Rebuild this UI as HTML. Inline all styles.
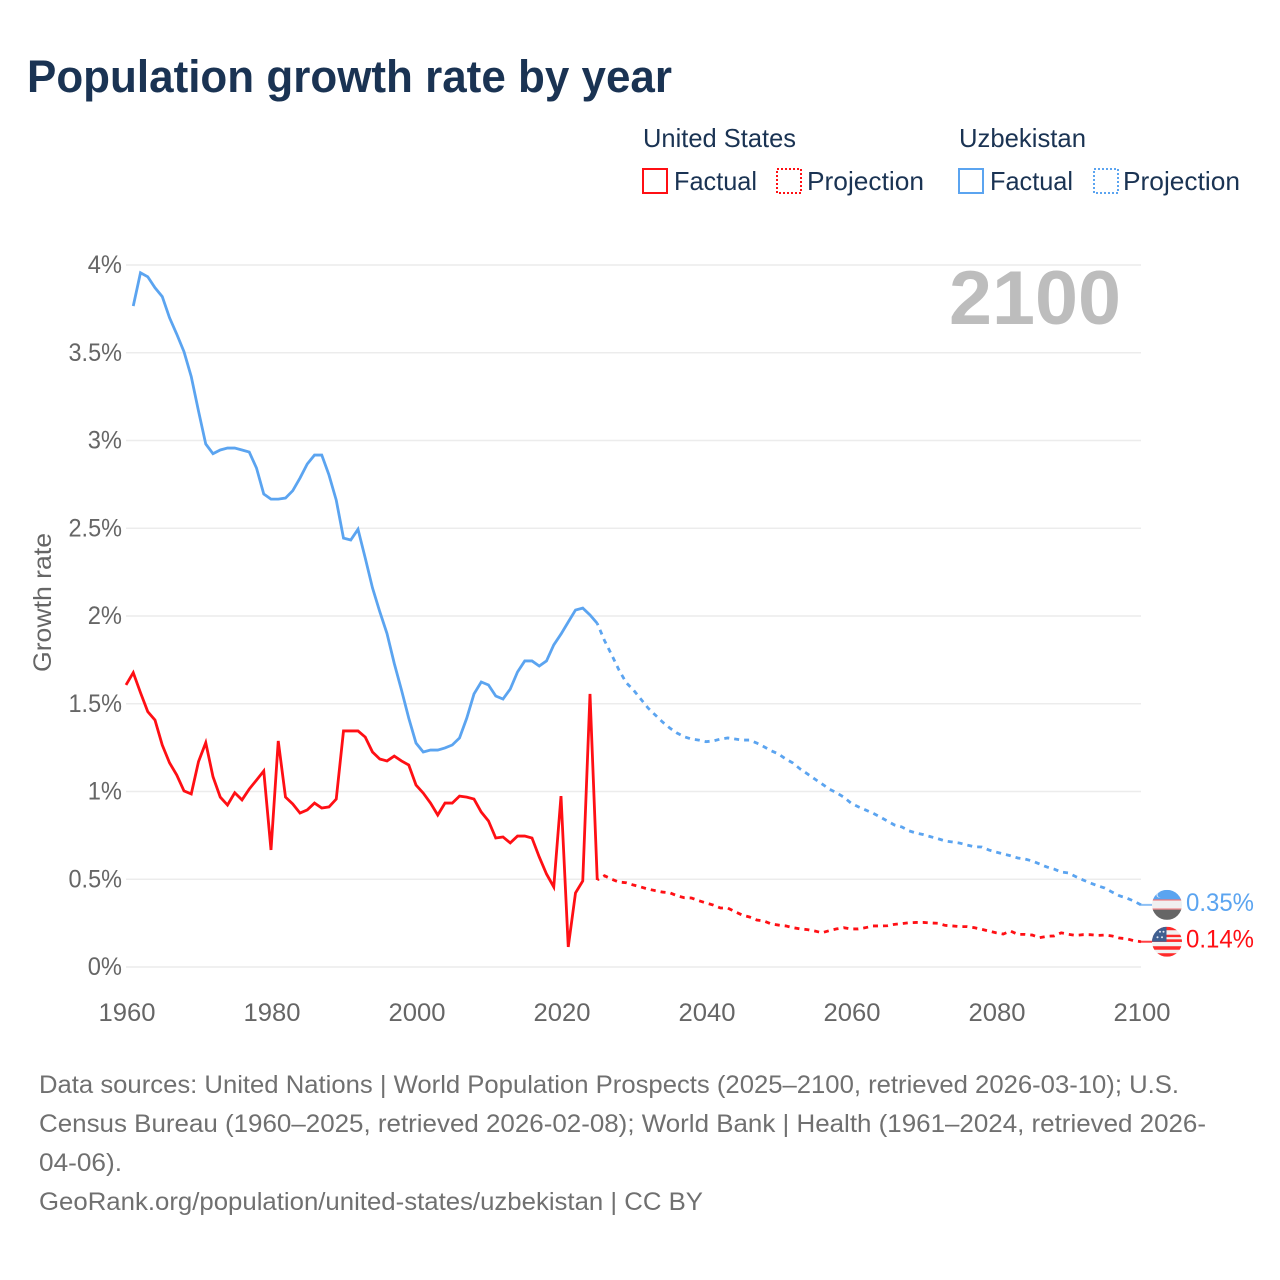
<!DOCTYPE html>
<html lang="en">
<head>
<meta charset="utf-8">
<title>Population growth rate by year</title>
<style>
  html, body { margin: 0; padding: 0; background: #ffffff; }
  body { width: 1280px; height: 1280px; overflow: hidden; }
  svg { display: block; }
  text { font-family: "Liberation Sans", "DejaVu Sans", sans-serif; }
</style>
</head>
<body>
<svg id="chart" xmlns="http://www.w3.org/2000/svg" width="1280" height="1280" viewBox="0 0 1280 1280">
  <rect x="0" y="0" width="1280" height="1280" fill="#ffffff"/>
  <text x="27" y="92" font-size="45" font-weight="700" fill="#1a3353" textLength="645" lengthAdjust="spacingAndGlyphs">Population growth rate by year</text>

  <g font-size="26" fill="#1a3353">
    <text x="643" y="147" textLength="153" lengthAdjust="spacingAndGlyphs">United States</text>
    <text x="959" y="147" textLength="127" lengthAdjust="spacingAndGlyphs">Uzbekistan</text>
    <g>
      <rect x="643" y="169" width="24" height="24" fill="none" stroke="#ff0f14" stroke-width="2"/>
      <text x="674" y="190" textLength="83" lengthAdjust="spacingAndGlyphs">Factual</text>
    </g>
    <g>
      <rect x="777" y="169" width="24" height="24" fill="none" stroke="#ff0f14" stroke-width="2" stroke-dasharray="2 2"/>
      <text x="807" y="190" textLength="117" lengthAdjust="spacingAndGlyphs">Projection</text>
    </g>
    <g>
      <rect x="959" y="169" width="24" height="24" fill="none" stroke="#5ba4f0" stroke-width="2"/>
      <text x="990" y="190" textLength="83" lengthAdjust="spacingAndGlyphs">Factual</text>
    </g>
    <g>
      <rect x="1094" y="169" width="24" height="24" fill="none" stroke="#5ba4f0" stroke-width="2" stroke-dasharray="2 2"/>
      <text x="1123" y="190" textLength="117" lengthAdjust="spacingAndGlyphs">Projection</text>
    </g>
  </g>

  <g id="grid"></g>
  <g id="yticks"></g>
  <g id="xticks"></g>
  <text transform="translate(51,672) rotate(-90)" x="0" y="0" font-size="25" fill="#666666" textLength="139" lengthAdjust="spacingAndGlyphs">Growth rate</text>
  <text x="949" y="324" font-size="76" font-weight="700" fill="#bdbdbd" textLength="172" lengthAdjust="spacingAndGlyphs">2100</text>

  <g id="series"></g>

  <defs>
    <clipPath id="flag-clip-uz"><circle cx="0" cy="0" r="15"/></clipPath>
    <clipPath id="flag-clip-us"><circle cx="0" cy="0" r="15"/></clipPath>
  </defs>

  <g id="flag-uz">
    <g clip-path="url(#flag-clip-uz)">
      <rect x="-15" y="-15" width="30" height="30" fill="#f0f0f0"/>
      <rect x="-15" y="-15" width="30" height="10" fill="#5ba4f0"/>
      <rect x="-15" y="-5.5" width="30" height="1.2" fill="#f0777a"/>
      <rect x="-15" y="3.6" width="30" height="1.2" fill="#f0777a"/>
      <rect x="-15" y="4.8" width="30" height="10.2" fill="#666666"/>
      <circle cx="-8" cy="-10" r="2.6" fill="#d8e8fa"/>
      <circle cx="-7" cy="-10" r="2.4" fill="#5ba4f0"/>
    </g>
  </g>
  <g id="flag-us">
    <g clip-path="url(#flag-clip-us)">
      <rect x="-15" y="-15" width="30" height="30" fill="#f2f2f2"/>
      <rect x="-15" y="-15" width="30" height="3.5" fill="#ff2a2a"/>
      <rect x="-15" y="-7" width="30" height="2.4" fill="#ff2a2a"/>
      <rect x="-15" y="-2.4" width="30" height="2.6" fill="#ff2a2a"/>
      <rect x="-15" y="4.5" width="30" height="3.5" fill="#ff2a2a"/>
      <rect x="-15" y="11.5" width="30" height="3.5" fill="#ff2a2a"/>
      <rect x="-15" y="-15" width="14.5" height="15" fill="#3f5f90"/>
      <circle cx="-7" cy="-10" r="1" fill="#dfe6f2"/>
      <circle cx="-3.5" cy="-10" r="1" fill="#dfe6f2"/>
      <circle cx="-9.5" cy="-4.5" r="1" fill="#dfe6f2"/>
      <circle cx="-5" cy="-4.5" r="1" fill="#dfe6f2"/>
    </g>
  </g>
  <text id="label-uz" x="1186" font-size="25" fill="#5ba4f0" textLength="68" lengthAdjust="spacingAndGlyphs"></text>
  <text id="label-us" x="1186" font-size="25" fill="#ff0f14" textLength="68" lengthAdjust="spacingAndGlyphs"></text>

  <g font-size="25" fill="#707070">
    <text x="39" y="1093" textLength="1140" lengthAdjust="spacingAndGlyphs">Data sources: United Nations | World Population Prospects (2025–2100, retrieved 2026-03-10); U.S.</text>
    <text x="39" y="1132" textLength="1167" lengthAdjust="spacingAndGlyphs">Census Bureau (1960–2025, retrieved 2026-02-08); World Bank | Health (1961–2024, retrieved 2026-</text>
    <text x="39" y="1171" textLength="83" lengthAdjust="spacingAndGlyphs">04-06).</text>
    <text x="39" y="1210" textLength="664" lengthAdjust="spacingAndGlyphs">GeoRank.org/population/united-states/uzbekistan | CC BY</text>
  </g>
</svg>

<script>
const yTickValues = [0, 0.5, 1, 1.5, 2, 2.5, 3, 3.5, 4];
const yTickLabels = ['0%', '0.5%', '1%', '1.5%', '2%', '2.5%', '3%', '3.5%', '4%'];
const xTickValues = [1960, 1980, 2000, 2020, 2040, 2060, 2080, 2100];
const xTickLabels = ['1960', '1980', '2000', '2020', '2040', '2060', '2080', '2100'];

const usFactualStartYear = 1960;
const usFactual = [1.607, 1.677, 1.563, 1.455, 1.407, 1.265, 1.164, 1.094, 1.003, 0.986,
  1.17, 1.278, 1.084, 0.968, 0.923, 0.993, 0.952, 1.014, 1.065, 1.117,
  0.667, 1.288, 0.968, 0.929, 0.877, 0.895, 0.934, 0.906, 0.912, 0.957,
  1.345, 1.345, 1.345, 1.31, 1.225, 1.185, 1.174, 1.202, 1.174, 1.151,
  1.037, 0.991, 0.934, 0.866, 0.934, 0.934, 0.974, 0.968, 0.957, 0.883,
  0.832, 0.735, 0.741, 0.707, 0.746, 0.746, 0.735, 0.627, 0.53, 0.456,
  0.974, 0.114, 0.422, 0.49, 1.556, 0.496];

const usProjectionStartYear = 2025;
const usProjection = [0.496, 0.52, 0.5, 0.484, 0.48, 0.467, 0.456, 0.444, 0.435, 0.427,
  0.423, 0.406, 0.395, 0.393, 0.378, 0.365, 0.353, 0.336, 0.336, 0.315,
  0.296, 0.285, 0.268, 0.262, 0.245, 0.239, 0.234, 0.224, 0.217, 0.213,
  0.205, 0.195, 0.207, 0.217, 0.224, 0.217, 0.217, 0.224, 0.234, 0.234,
  0.235, 0.243, 0.247, 0.252, 0.254, 0.254, 0.251, 0.249, 0.237, 0.234,
  0.23, 0.23, 0.224, 0.215, 0.205, 0.195, 0.188, 0.205, 0.186, 0.186,
  0.182, 0.167, 0.175, 0.177, 0.195, 0.186, 0.18, 0.184, 0.184, 0.18,
  0.182, 0.177, 0.165, 0.161, 0.15, 0.144];

const uzFactualStartYear = 1961;
const uzFactual = [3.766, 3.956, 3.933, 3.87, 3.82, 3.70, 3.606, 3.506, 3.364,
  3.168, 2.98, 2.925, 2.946, 2.957, 2.957, 2.946, 2.934, 2.843, 2.695,
  2.666, 2.666, 2.672, 2.714, 2.786, 2.866, 2.917, 2.917, 2.803, 2.66,
  2.444, 2.433, 2.494, 2.33, 2.16, 2.025, 1.90, 1.73, 1.578, 1.418,
  1.276, 1.225, 1.236, 1.236, 1.248, 1.265, 1.305, 1.418, 1.556, 1.624,
  1.607, 1.544, 1.527, 1.584, 1.681, 1.744, 1.744, 1.715, 1.744, 1.835,
  1.897, 1.966, 2.034, 2.045, 2.006, 1.958];

const uzProjectionStartYear = 2025;
const uzProjection = [1.958, 1.86, 1.778, 1.692, 1.62, 1.578, 1.527, 1.476, 1.436, 1.396,
  1.362, 1.333, 1.312, 1.299, 1.293, 1.284, 1.288, 1.299, 1.305, 1.299,
  1.293, 1.293, 1.276, 1.255, 1.232, 1.214, 1.185, 1.162, 1.128, 1.10,
  1.071, 1.043, 1.014, 0.993, 0.968, 0.934, 0.913, 0.895, 0.877, 0.855,
  0.832, 0.809, 0.798, 0.776, 0.763, 0.754, 0.742, 0.731, 0.718, 0.712,
  0.706, 0.695, 0.685, 0.684, 0.667, 0.655, 0.644, 0.634, 0.621, 0.615,
  0.604, 0.587, 0.57, 0.558, 0.541, 0.536, 0.515, 0.496, 0.479, 0.463,
  0.45, 0.427, 0.406, 0.393, 0.376, 0.354];

const SVG_NS = 'http://www.w3.org/2000/svg';
const RED = '#ff0f14';
const BLUE = '#5ba4f0';
const LINE_WIDTH = '2.8';
const PLOT_LEFT = 126;
const PLOT_RIGHT = 1141;
const PLOT_TOP = 265;
const PLOT_BOTTOM = 967;
const X_MIN = 1960;
const X_MAX = 2100;
const Y_MIN = 0;
const Y_MAX = 4;

function xScale(year) {
  return PLOT_LEFT + (year - X_MIN) / (X_MAX - X_MIN) * (PLOT_RIGHT - PLOT_LEFT);
}
function yScale(value) {
  return PLOT_BOTTOM - (value - Y_MIN) / (Y_MAX - Y_MIN) * (PLOT_BOTTOM - PLOT_TOP);
}
function make(tag, parent) {
  const node = document.createElementNS(SVG_NS, tag);
  parent.appendChild(node);
  return node;
}
function tickLabelWidth(label) {
  let width = 0;
  for (const ch of label) {
    if (ch === '%') width += 20;
    else if (ch === '.') width += 5;
    else width += 14.25;
  }
  return width;
}
function linePoints(startYear, values) {
  return values.map(function (v, i) {
    return xScale(startYear + i).toFixed(2) + ',' + yScale(v).toFixed(2);
  }).join(' ');
}

const gridGroup = document.getElementById('grid');
const yTickGroup = document.getElementById('yticks');
yTickValues.forEach(function (value, i) {
  const line = make('line', gridGroup);
  
  
  line.setAttribute('x1', PLOT_LEFT);
  line.setAttribute('x2', PLOT_RIGHT);
  line.setAttribute('y1', yScale(value));
  line.setAttribute('y2', yScale(value));
  line.setAttribute('stroke', '#ececec');
  line.setAttribute('stroke-width', '1.6');

  const text = make('text', yTickGroup);
  
  
  const w = tickLabelWidth(yTickLabels[i]);
  text.setAttribute('x', 122 - w);
  text.setAttribute('y', yScale(value) + 8);
  text.setAttribute('font-size', '25');
  text.setAttribute('fill', '#666666');
  text.setAttribute('textLength', w);
  text.setAttribute('lengthAdjust', 'spacingAndGlyphs');
  text.textContent = yTickLabels[i];
});

const xTickGroup = document.getElementById('xticks');
xTickValues.forEach(function (value, i) {
  const text = make('text', xTickGroup);
  
  
  const w = tickLabelWidth(xTickLabels[i]);
  text.setAttribute('x', xScale(value) + 1 - w / 2);
  text.setAttribute('y', 1021);
  text.setAttribute('font-size', '25');
  text.setAttribute('fill', '#666666');
  text.setAttribute('textLength', w);
  text.setAttribute('lengthAdjust', 'spacingAndGlyphs');
  text.textContent = xTickLabels[i];
});

const seriesGroup = document.getElementById('series');

const uzFactualLine = make('polyline', seriesGroup);


uzFactualLine.setAttribute('points', linePoints(uzFactualStartYear, uzFactual));
uzFactualLine.setAttribute('fill', 'none');
uzFactualLine.setAttribute('stroke', BLUE);
uzFactualLine.setAttribute('stroke-width', LINE_WIDTH);

const uzProjectionLine = make('polyline', seriesGroup);


uzProjectionLine.setAttribute('points', linePoints(uzProjectionStartYear, uzProjection));
uzProjectionLine.setAttribute('fill', 'none');
uzProjectionLine.setAttribute('stroke', BLUE);
uzProjectionLine.setAttribute('stroke-width', LINE_WIDTH);
uzProjectionLine.setAttribute('stroke-dasharray', '5 5');
uzProjectionLine.setAttribute('stroke-dashoffset', '3');

const usFactualLine = make('polyline', seriesGroup);


usFactualLine.setAttribute('points', linePoints(usFactualStartYear, usFactual));
usFactualLine.setAttribute('fill', 'none');
usFactualLine.setAttribute('stroke', RED);
usFactualLine.setAttribute('stroke-width', LINE_WIDTH);

const usProjectionLine = make('polyline', seriesGroup);


usProjectionLine.setAttribute('points', linePoints(usProjectionStartYear, usProjection));
usProjectionLine.setAttribute('fill', 'none');
usProjectionLine.setAttribute('stroke', RED);
usProjectionLine.setAttribute('stroke-width', LINE_WIDTH);
usProjectionLine.setAttribute('stroke-dasharray', '5 5');
usProjectionLine.setAttribute('stroke-dashoffset', '3');

const uzLast = uzProjection[uzProjection.length - 1];
const usLast = usProjection[usProjection.length - 1];
const flagX = 1167;

const uzConnector = make('line', seriesGroup);


uzConnector.setAttribute('x1', xScale(X_MAX));
uzConnector.setAttribute('x2', flagX - 15);
uzConnector.setAttribute('y1', yScale(uzLast));
uzConnector.setAttribute('y2', yScale(uzLast));
uzConnector.setAttribute('stroke', BLUE);
uzConnector.setAttribute('stroke-opacity', '0.7');
uzConnector.setAttribute('stroke-width', '2');

const usConnector = make('line', seriesGroup);


usConnector.setAttribute('x1', xScale(X_MAX));
usConnector.setAttribute('x2', flagX - 15);
usConnector.setAttribute('y1', yScale(usLast));
usConnector.setAttribute('y2', yScale(usLast));
usConnector.setAttribute('stroke', RED);
usConnector.setAttribute('stroke-opacity', '0.8');
usConnector.setAttribute('stroke-width', '2');

document.getElementById('flag-uz').setAttribute('transform', 'translate(' + flagX + ',' + yScale(uzLast) + ')');
document.getElementById('flag-us').setAttribute('transform', 'translate(' + flagX + ',' + yScale(usLast) + ')');

const uzLabel = document.getElementById('label-uz');
uzLabel.setAttribute('y', yScale(uzLast) + 6);
uzLabel.textContent = uzLast.toFixed(2) + '%';

const usLabel = document.getElementById('label-us');
usLabel.setAttribute('y', yScale(usLast) + 6);
usLabel.textContent = usLast.toFixed(2) + '%';
</script>
</body>
</html>
